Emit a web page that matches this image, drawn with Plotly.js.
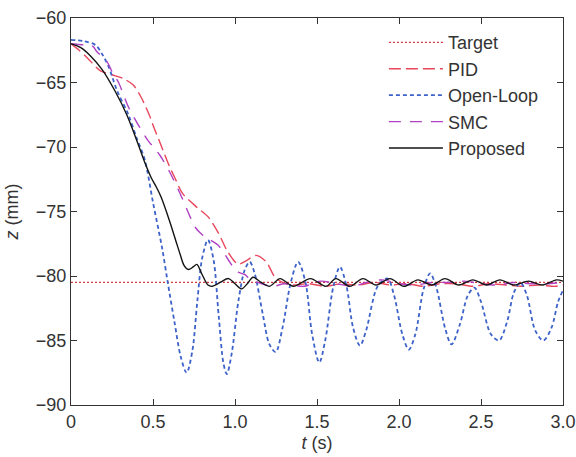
<!DOCTYPE html>
<html>
<head>
<meta charset="utf-8">
<script src="https://cdn.plot.ly/plotly-3.0.1.min.js"></script>
<style>html,body{margin:0;padding:0;background:#fff;}#chart{width:576px;height:457px;}</style>
</head>
<body>
<div id="chart"></div>
<script>
// Target
const targetT = [0, 3.0];
const targetZ = [-80.5, -80.5];

// PID
const pidT = [0, 0.05, 0.10, 0.18, 0.25, 0.32, 0.38, 0.43, 0.48, 0.50, 0.55, 0.60, 0.634, 0.68, 0.77, 0.835, 0.90, 0.95, 1.0, 1.02, 1.07, 1.13, 1.19, 1.244, 1.29, 1.35, 1.45, 1.55, 1.65, 1.75, 1.85, 1.95, 2.05, 2.15, 2.25, 2.35, 2.45, 2.55, 2.65, 2.75, 2.85, 2.95, 3.0];
const pidZ = [-62, -62.5, -63.1, -64.1, -64.4, -64.7, -65.2, -66.2, -67.6, -68.3, -69.9, -71.5, -72.4, -73.6, -74.7, -75.4, -76.7, -78.0, -78.9, -79.1, -78.8, -78.4, -78.9, -80.1, -80.5, -80.7, -80.6, -80.8, -80.6, -80.7, -80.5, -80.7, -80.6, -80.8, -80.6, -80.6, -80.8, -80.6, -80.7, -80.8, -80.7, -80.8, -80.7];

// Open-Loop
const openT = [0, 0.08, 0.15, 0.19, 0.23, 0.28, 0.35, 0.40, 0.45, 0.50, 0.555, 0.59, 0.63, 0.67, 0.705, 0.74, 0.77, 0.80, 0.835, 0.87, 0.90, 0.93, 0.95, 0.98, 1.02, 1.06, 1.09, 1.12, 1.17, 1.21, 1.248, 1.29, 1.34, 1.385, 1.43, 1.47, 1.514, 1.55, 1.60, 1.64, 1.68, 1.72, 1.762, 1.80, 1.87, 1.93, 1.97, 2.02, 2.06, 2.10, 2.15, 2.19, 2.23, 2.28, 2.32, 2.37, 2.42, 2.46, 2.50, 2.56, 2.61, 2.66, 2.70, 2.74, 2.78, 2.83, 2.88, 2.93, 2.97, 3.0];
const openZ = [-61.7, -61.8, -62.1, -62.8, -63.8, -65.6, -67.5, -69.3, -71.0, -74.3, -77.8, -80.5, -83.5, -86.3, -87.5, -85.8, -82.0, -78.6, -77.2, -78.8, -83.0, -86.8, -87.6, -86.0, -82.0, -79.5, -78.9, -79.8, -83.0, -85.3, -85.9, -84.0, -80.5, -78.9, -80.5, -84.5, -86.7, -85.0, -80.8, -79.3, -80.8, -84.0, -85.4, -84.2, -80.8, -80.2, -81.5, -84.5, -85.7, -84.5, -81.0, -79.8, -81.0, -84.0, -85.3, -83.8, -81.5, -80.9, -82.0, -84.5, -85.0, -83.5, -81.3, -80.5, -81.5, -84.2, -85.0, -84.0, -82.0, -81.1];

// SMC
const smcT = [0, 0.085, 0.134, 0.157, 0.22, 0.256, 0.29, 0.35, 0.42, 0.47, 0.54, 0.60, 0.665, 0.726, 0.756, 0.80, 0.835, 0.896, 0.957, 1.0, 1.02, 1.06, 1.10, 1.23, 1.30, 1.42, 1.52, 1.62, 1.72, 1.80, 1.90, 2.00, 2.10, 2.20, 2.30, 2.40, 2.50, 2.60, 2.70, 2.80, 2.90, 3.0];
const smcZ = [-62, -62.1, -62.2, -62.6, -63.4, -64.3, -65.0, -66.9, -68.5, -69.5, -70.6, -71.9, -73.6, -75.4, -76.2, -76.8, -77.1, -77.6, -78.7, -79.5, -79.7, -79.9, -80.3, -80.8, -80.6, -80.8, -80.4, -80.6, -80.8, -80.5, -80.3, -80.6, -80.7, -80.5, -80.5, -80.4, -80.6, -80.7, -80.5, -80.6, -80.6, -80.5];

// Proposed
const propT = [0, 0.06, 0.116, 0.19, 0.27, 0.34, 0.41, 0.45, 0.49, 0.52, 0.55, 0.60, 0.64, 0.665, 0.69, 0.715, 0.745, 0.767, 0.80, 0.835, 0.86, 0.91, 0.96, 1.0, 1.04, 1.075, 1.11, 1.16, 1.21, 1.275, 1.355, 1.46, 1.555, 1.615, 1.70, 1.78, 1.86, 1.945, 2.03, 2.115, 2.20, 2.28, 2.365, 2.45, 2.535, 2.615, 2.70, 2.79, 2.875, 2.96, 3.0];
const propZ = [-62, -62.3, -62.9, -64.0, -65.7, -67.5, -69.8, -71.2, -72.4, -73.1, -73.9, -75.7, -77.3, -78.3, -79.2, -79.5, -79.3, -79.1, -79.9, -80.7, -80.8, -80.5, -80.2, -80.6, -81.0, -80.6, -80.1, -80.5, -80.8, -80.2, -80.8, -80.2, -80.8, -80.2, -80.8, -80.2, -80.7, -80.2, -80.8, -80.3, -80.7, -80.2, -80.7, -80.3, -80.7, -80.3, -80.7, -80.4, -80.7, -80.3, -80.4];

const xTickVals = [0, 0.5, 1.0, 1.5, 2.0, 2.5, 3.0];
const xTickText = ['0', '0.5', '1.0', '1.5', '2.0', '2.5', '3.0'];
const yTickVals = [-90, -85, -80, -75, -70, -65, -60];

const FONT = 'Liberation Sans, Arial, sans-serif';

const traces = [
  {x: targetT, y: targetZ, name: 'Target', mode: 'lines', line: {color: '#d33a3f', width: 1.2, dash: '2px,2px'}},
  {x: pidT, y: pidZ, name: 'PID', mode: 'lines', line: {color: '#e8475c', width: 1.4, dash: '12px,5px', shape: 'spline', smoothing: 0.8}},
  {x: openT, y: openZ, name: 'Open-Loop', mode: 'lines', line: {color: '#3d62c9', width: 1.8, dash: '4px,3px', shape: 'spline', smoothing: 0.9}},
  {x: smcT, y: smcZ, name: 'SMC', mode: 'lines', line: {color: '#b041c2', width: 1.4, dash: '12px,9px', shape: 'spline', smoothing: 0.8}},
  {x: propT, y: propZ, name: 'Proposed', mode: 'lines', line: {color: '#141414', width: 1.4, shape: 'spline', smoothing: 0.9}}
];

const layout = {
  width: 576, height: 457,
  margin: {l: 71, r: 13, t: 18, b: 52},
  paper_bgcolor: '#fff', plot_bgcolor: '#fff',
  font: {family: FONT, size: 18, color: '#333'},
  showlegend: true,
  legend: {x: 0.636, y: 0.984, xanchor: 'left', yanchor: 'top', bgcolor: 'rgba(0,0,0,0)', font: {family: FONT, size: 18, color: '#333'}, itemwidth: 54, tracegroupgap: 0},
  xaxis: {
    range: [0, 3.0], tickvals: xTickVals, ticktext: xTickText,
    ticks: 'inside', ticklen: 6, tickcolor: '#333', showline: true, linecolor: '#333', linewidth: 1.2, mirror: 'ticks',
    showgrid: false, zeroline: false,
    tickfont: {family: FONT, size: 18, color: '#333'},
    title: {text: '<i>t</i> (s)', font: {family: FONT, size: 18, color: '#333'}, standoff: 5}
  },
  yaxis: {
    range: [-90, -60], tickvals: yTickVals,
    ticks: 'inside', ticklen: 6, tickcolor: '#333', showline: true, linecolor: '#333', linewidth: 1.2, mirror: 'ticks',
    showgrid: false, zeroline: false,
    tickfont: {family: FONT, size: 18, color: '#333'},
    title: {text: '<i>z</i> (mm)', font: {family: FONT, size: 18, color: '#333'}, standoff: 12}
  }
};

Plotly.newPlot('chart', traces, layout, {staticPlot: true, displayModeBar: false});
</script>
</body>
</html>
